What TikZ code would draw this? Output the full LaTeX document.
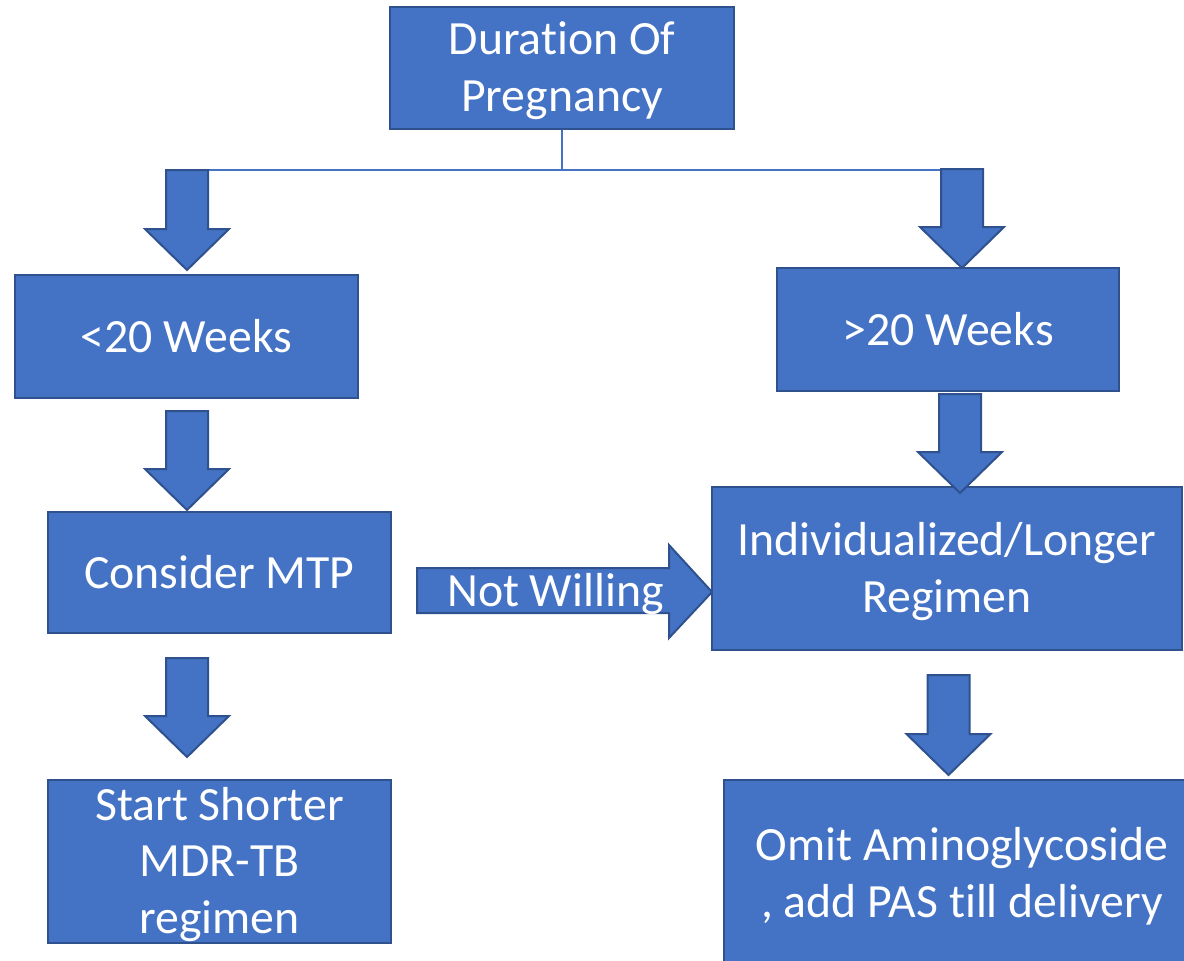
\documentclass[tikz,border=0pt]{standalone}
\usepackage{fontspec}
\setmainfont[Ligatures=NoCommon]{Carlito}
\definecolor{boxfill}{HTML}{4472C4}
\definecolor{boxedge}{HTML}{2F528F}

% block arrow pointing down: centre x, top y, tip y
\newcommand\downblock[3]{%
  \filldraw[blockarrow] ({#1-21},#2) -- ({#1+21},#2) -- ({#1+21},{#3-41})
    -- ({#1+42},{#3-41}) -- (#1,#3) -- ({#1-42},{#3-41}) -- ({#1-21},{#3-41}) -- cycle;}

\begin{document}
\begin{tikzpicture}[x=0.75pt,y=-0.75pt,
  box/.style={draw=boxedge, fill=boxfill, line width=1.5pt, text=white,
    font=\fontsize{35.8}{42.5}\selectfont, align=center, inner sep=0pt},
  multi/.style={text depth=2pt},
  blockarrow/.style={draw=boxedge, fill=boxfill, line width=1.5pt, line join=miter},
  link/.style={draw=boxfill, line width=1.2pt},
  label/.style={text=white, font=\fontsize{35.8}{42.5}\selectfont, inner sep=0pt}]
\useasboundingbox (0,0) rectangle (1184,960);
\clip (0,0) rectangle (1184,960);

% boxes
\node[box, multi, minimum width=344*0.75pt, minimum height=122*0.75pt] (dur) at (562,68) {Duration Of\\Pregnancy};
\node[box, minimum width=343*0.75pt, minimum height=123*0.75pt] (lt) at (186.5,336.5) {<20 Weeks};
\node[box, minimum width=342*0.75pt, minimum height=123*0.75pt] (gt) at (948,329.5) {>20 Weeks};
\node[box, minimum width=343*0.75pt, minimum height=121*0.75pt] (mtp) at (219.5,572.5) {Consider MTP};
\node[box, multi, minimum width=470*0.75pt, minimum height=163*0.75pt] (ind) at (947,568.5) {Individualized/Longer\\Regimen};
\node[box, multi, minimum width=343*0.75pt, minimum height=163*0.75pt] (sht) at (219.5,861.5) {Start Shorter\\MDR-TB\\regimen};
\node[box, multi, minimum width=476*0.75pt, minimum height=188*0.75pt] (omit) at (962,874) {Omit Aminoglycoside\\, add PAS till delivery};

% split line under the first box
\coordinate (split) at (562,170);
\coordinate (splitL) at (190,170);
\coordinate (splitR) at (945,170);
\draw[link] (dur.south) -- (split);
\draw[link] (splitL) -- (splitR);

% block arrows
\downblock{187}{170}{270}
\downblock{187}{411}{510}
\downblock{187}{658}{757}
\downblock{962}{169}{268}
\downblock{960}{394}{493}
\downblock{948.5}{675}{775}

% side arrow
\filldraw[blockarrow] (417,568) -- (669,568) -- (669,545) -- (712,592)
  -- (669,638) -- (669,613) -- (417,613) -- cycle;
\node[label, anchor=base] (nw) at (555.5,606) {Not Willing};
\end{tikzpicture}
\end{document}
